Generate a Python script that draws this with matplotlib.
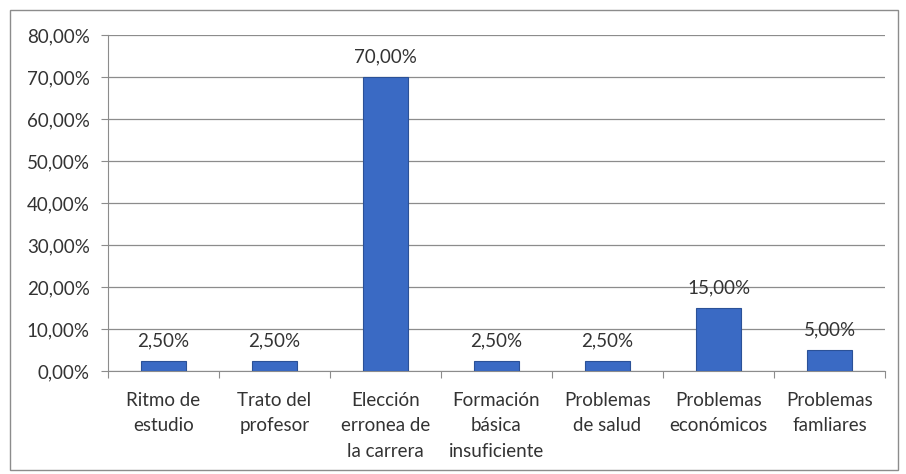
import matplotlib.pyplot as plt
from matplotlib.patches import Rectangle

categorias = ["Ritmo de\nestudio", "Trato del\nprofesor", "Elección\nerronea de\nla carrera",
              "Formación\nbásica\ninsuficiente", "Problemas\nde salud", "Problemas\neconómicos",
              "Problemas\nfamliares"]
valores = [2.5, 2.5, 70.0, 2.5, 2.5, 15.0, 5.0]
yticks = [0, 10, 20, 30, 40, 50, 60, 70, 80]

plt.rcParams["font.family"] = ["Lato", "DejaVu Sans"]
fs = 13.5
txt = "#333333"

fig = plt.figure(figsize=(9.06, 4.74), dpi=100)
ax = fig.add_axes([0.119, 0.217, 0.858, 0.709])

x = range(len(categorias))
ax.bar(x, valores, width=0.4, color="#3A6AC4", edgecolor="#2B5197", linewidth=0.8, zorder=3)

for xi, v in zip(x, valores):
    ax.text(xi, v + 2.8, f"{v:.2f}%".replace(".", ","), ha="center", va="bottom",
            fontsize=fs, color=txt)

ax.set_xlim(-0.5, len(categorias) - 0.5)
ax.set_ylim(0, 80)
ax.set_yticks(yticks)
ax.set_yticklabels([f"{t:.2f}%".replace(".", ",") for t in yticks], fontsize=fs, color=txt)
ax.yaxis.grid(True, color="#8C8C8C", linewidth=0.9, zorder=0)

# etiquetas centradas, marcas en los limites como en Excel
ax.set_xticks([i + 0.5 for i in range(-1, len(categorias))])
ax.set_xticklabels([])
ax.tick_params(axis="x", length=5, color="#8C8C8C")
ax.tick_params(axis="y", length=5, color="#8C8C8C", pad=8)
for xi, lab in zip(x, categorias):
    ax.text(xi, -4.9, lab, ha="center", va="top", fontsize=fs, color=txt,
            linespacing=1.6)

for s in ["top", "right"]:
    ax.spines[s].set_visible(False)
for s in ["left", "bottom"]:
    ax.spines[s].set_color("#8C8C8C")

fig.patches.append(Rectangle((10 / 906, 1 - 470 / 474), 888 / 906, 460 / 474,
                             transform=fig.transFigure, fill=False, edgecolor="#8C8C8C",
                             linewidth=1.0))

fig.savefig("out.png", dpi=100)
